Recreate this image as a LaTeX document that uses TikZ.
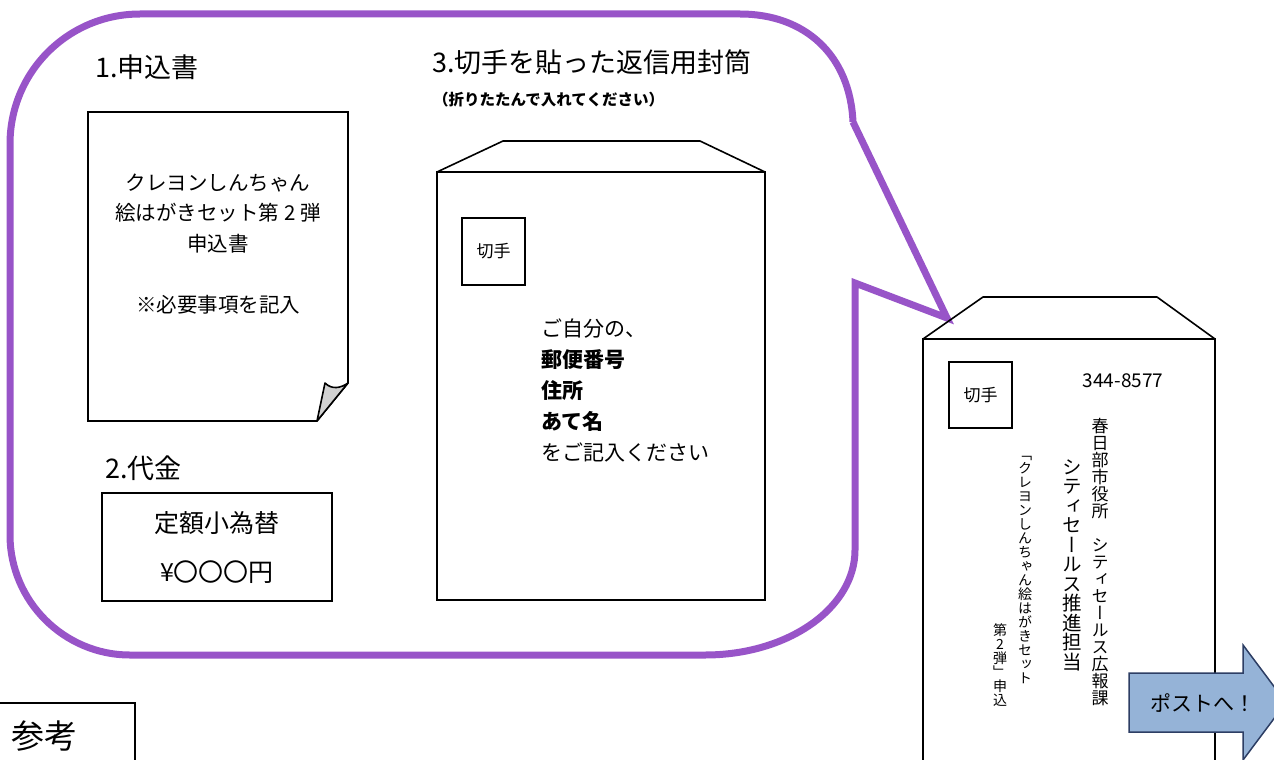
\documentclass[tikz,border=0pt]{standalone}
\usepackage{fontspec}
\setmainfont{Noto Sans CJK JP}
\newfontfamily\tatefont[RawFeature=+vert]{Noto Sans CJK JP}
\usetikzlibrary{positioning}
\definecolor{purple2}{RGB}{152, 84, 200}
\definecolor{blue2}{RGB}{149, 179, 215}
\definecolor{navy2}{RGB}{45, 62, 100}
% one character per line, for vertical text
\def\tatestep#1{\ifx\relax#1\else\hbox to 1em{\hss#1\hss\vrule height .88em depth .12em width 0pt}\expandafter\tatestep\fi}
\newcommand\tate[1]{\vbox{\offinterlineskip\tatestep#1\relax}}
\tikzset{
outline/.style={draw, line width=1.6pt},
bubble/.style={draw=purple2, line width=7pt, line join=miter},
stampbox/.style={draw, line width=1.6pt, minimum width=63pt, minimum height=67pt, inner sep=0pt,
	font=\fontsize{17}{17}\selectfont},
heading/.style={anchor=west, inner sep=0pt, font=\fontsize{27}{27}\selectfont},
tatetext/.style={anchor=north, inner sep=0pt, font={\fontsize{#1}{#1}\tatefont}},
}

\begin{document}
\begin{tikzpicture}[x=1pt, y=-1pt]
\useasboundingbox (0,0) rectangle (1274,760);

%The speech bubble
\draw[bubble] (853,122) -- (947,318) -- (855,283) -- (855,550)
	.. controls (855,608) and (788,655) .. (705,655) -- (130,655)
	.. controls (64,655) and (10,601) .. (10,535) -- (10,144)
	.. controls (10,72) and (68,14) .. (140,14) -- (740,14)
	.. controls (805,14) and (850,55) .. (853,122);

%1. application form
\node[heading] (form title) at (95,67) {1.申込書};
\draw[outline] (88,112) -- (348,112) -- (348,383) -- (317,421) -- (88,421) -- cycle;
\draw[outline, fill=black!18, line join=round] (317,421) -- (325,383)
	.. controls (332,390) and (341,388) .. (348,383) -- cycle;
\node[align=center, inner sep=0pt, font=\fontsize{20.5}{30.5}\selectfont] (form text) at (218,244)
	{クレヨンしんちゃん\\絵はがきセット第 2 弾\\申込書\\[30.5pt]※必要事項を記入};

%2. payment
\node[heading] (fee title) at (105,468) {2.代金};
\node[outline, minimum width=230pt, minimum height=108pt, align=center, inner sep=0pt,
	font=\fontsize{25}{49}\selectfont] (fee) at (217,547) {定額小為替\\¥〇〇〇円};

%3. return envelope
\node[heading] (env title) at (432,62) {3.切手を貼った返信用封筒};
\node[anchor=west, inner sep=0pt, font=\fontsize{15.5}{15.5}\selectfont\bfseries] (env note) at (433,100)
	{（折りたたんで入れてください）};
\draw[outline] (437,600) -- (437,172) -- (765,172) -- (765,600) -- cycle;
\draw[outline, line join=round] (437,172) -- (503,141) -- (700,141) -- (765,172);
\node[stampbox] (stamp1) at (493.5,251.5) {切手};
\node[anchor=west, align=left, inner sep=0pt, font=\fontsize{21}{31}\selectfont] (env text) at (541,390)
	{ご自分の、\\{\bfseries 郵便番号}\\{\bfseries 住所}\\{\bfseries あて名}\\をご記入ください};

%Envelope to send
\draw[outline] (923,780) -- (923,339) -- (1215,339) -- (1215,780);
\draw[outline, line join=round] (923,339) -- (983,297) -- (1157,297) -- (1215,339);
\node[stampbox, minimum height=66pt] (stamp2) at (980.5,395) {切手};
\node[inner sep=0pt, font=\fontsize{19}{19}\selectfont] (zip) at (1123,381) {344-8577};
\node[tatetext=17] (addr) at (1100,417) {\tate{春日部市役所　シティセールス広報課}};
\node[tatetext=19.5] (dept) at (1072,457) {\tate{シティセールス推進担当}};
\node[tatetext=14] (subj1) at (1025,447) {\tate{「クレヨンしんちゃん絵はがきセット}};
\node[tatetext=14] (subj2) at (1000,623) {\tate{第2弾」申込}};

%Arrow
\draw[fill=blue2, draw=navy2, line width=1.5pt] (1129,673) -- (1243,673) -- (1243,645) -- (1286,702.5)
	-- (1243,760) -- (1243,732) -- (1129,732) -- cycle;
\node[inner sep=0pt, font=\fontsize{21}{21}\selectfont] (post) at (1203,703) {ポストへ！};

%Reference box
\draw[outline] (-5,703) -- (135,703) -- (135,780);
\node[inner sep=0pt, font=\fontsize{33}{33}\selectfont] (ref) at (44,736) {参考};
\end{tikzpicture}
\end{document}
